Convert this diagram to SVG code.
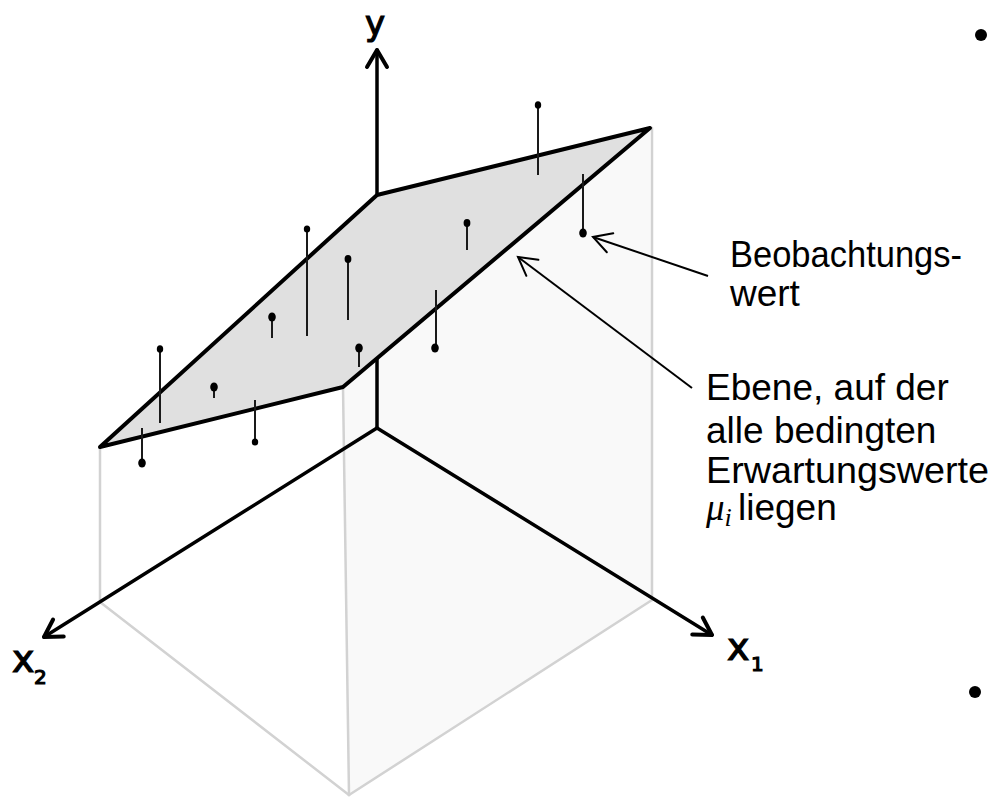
<svg xmlns="http://www.w3.org/2000/svg" width="996" height="798" viewBox="0 0 996 798">
<style>
  .face { fill: #f9f9f9; stroke: none; }
  .gray { stroke: #d2d2d2; stroke-width: 2.5; fill: none; stroke-linecap: round; }
  .axis { stroke: #000; stroke-width: 3.5; fill: none; stroke-linecap: round; }
  .plane { fill: #e0e0e0; stroke: #000; stroke-width: 4; stroke-linejoin: round; }
  .stem { stroke: #1a1a1a; stroke-width: 2; fill: none; }
  .dot { fill: #000; }
  .ann { stroke: #000; stroke-width: 2; fill: none; }
  .lbl { font-family: "Liberation Sans", Arial, sans-serif; font-size: 37px; fill: #000; }
  .hand { font-family: "DejaVu Sans", sans-serif; fill: #000; stroke: #000; stroke-width: 1.2; }
</style>
<defs>
  <marker id="axHead" markerUnits="userSpaceOnUse" markerWidth="40" markerHeight="40" viewBox="-25 -20 30 40" refX="0" refY="0" orient="auto">
    <path d="M -17 -10 L 0 0 L -17 10" fill="none" stroke="#000" stroke-width="4" stroke-linecap="round" stroke-linejoin="round"/>
  </marker>
  <marker id="annHead" markerUnits="userSpaceOnUse" markerWidth="40" markerHeight="40" viewBox="-25 -20 30 40" refX="0" refY="0" orient="auto">
    <path d="M -18 -10 L 0 0 L -18 10" fill="none" stroke="#000" stroke-width="2" stroke-linecap="round" stroke-linejoin="miter"/>
  </marker>
</defs>
<rect x="0" y="0" width="996" height="798" fill="#fff"/>

<g id="box">
  <polygon class="face" points="343,387 650,128 652,600 349,795"/>
  <line class="gray" x1="100" y1="447" x2="100" y2="602"/>
  <line class="gray" x1="343" y1="387" x2="349" y2="795"/>
  <line class="gray" x1="652" y1="128" x2="652" y2="600"/>
  <line class="gray" x1="100" y1="602" x2="349" y2="795"/>
  <line class="gray" x1="652" y1="600" x2="349" y2="795"/>
</g>

<g id="connectors">
  <line class="axis" x1="377" y1="428" x2="377" y2="50" marker-end="url(#axHead)"/>
  <line class="axis" x1="377" y1="428" x2="712" y2="635" marker-end="url(#axHead)"/>
  <line class="axis" x1="377" y1="428" x2="44" y2="637" marker-end="url(#axHead)"/>
  <line class="ann" x1="708" y1="276" x2="593" y2="237" marker-end="url(#annHead)"/>
  <line class="ann" x1="692" y1="388" x2="518" y2="257" marker-end="url(#annHead)"/>
</g>

<g id="plane">
  <polygon class="plane" points="377,195 650,128 343,387 100,447"/>
</g>

<g id="observations">
  <line class="stem" x1="160" y1="349" x2="160" y2="423"/><ellipse class="dot" cx="160" cy="349" rx="3.2" ry="3.8"/>
  <line class="stem" x1="214" y1="387" x2="214" y2="398"/><ellipse class="dot" cx="214" cy="387" rx="3.8" ry="4.5"/>
  <line class="stem" x1="272" y1="317" x2="272" y2="338"/><ellipse class="dot" cx="272" cy="317" rx="3.8" ry="4.5"/>
  <line class="stem" x1="307" y1="229" x2="307" y2="336"/><ellipse class="dot" cx="307" cy="229" rx="3.2" ry="3.6"/>
  <line class="stem" x1="348" y1="259" x2="348" y2="320"/><ellipse class="dot" cx="348" cy="259" rx="3.4" ry="4"/>
  <line class="stem" x1="359" y1="348" x2="359" y2="367"/><ellipse class="dot" cx="359" cy="348" rx="3.8" ry="4.5"/>
  <line class="stem" x1="142" y1="428" x2="142" y2="463"/><ellipse class="dot" cx="142" cy="463" rx="3.8" ry="4.5"/>
  <line class="stem" x1="255" y1="400" x2="255" y2="442"/><ellipse class="dot" cx="255" cy="442" rx="3.2" ry="3.6"/>
  <line class="stem" x1="538" y1="105" x2="538" y2="175"/><ellipse class="dot" cx="538" cy="105" rx="3.2" ry="3.8"/>
  <line class="stem" x1="467" y1="223" x2="467" y2="250"/><ellipse class="dot" cx="467" cy="223" rx="3.4" ry="4"/>
  <line class="stem" x1="583" y1="174" x2="583" y2="233"/><ellipse class="dot" cx="583" cy="233" rx="3.8" ry="4.5"/>
  <line class="stem" x1="436" y1="290" x2="436" y2="348"/><ellipse class="dot" cx="435" cy="348" rx="3.8" ry="4.5"/>
</g>

<g id="axis-labels">
  <text class="hand" x="365" y="35" font-size="34">y</text>
  <text class="hand" x="727" y="660" font-size="38">x</text>
  <text class="hand" x="751" y="671" font-size="20">1</text>
  <text class="hand" x="12" y="672" font-size="38">x</text>
  <text class="hand" x="34" y="684" font-size="20">2</text>
</g>

<g id="label-beobachtung">
  <text class="lbl" x="730" y="267" font-size="35" textLength="232" lengthAdjust="spacingAndGlyphs">Beobachtungs-</text>
  <text class="lbl" x="730" y="306">wert</text>
</g>

<g id="label-ebene">
  <text class="lbl" x="706" y="400">Ebene, auf der</text>
  <text class="lbl" x="706" y="443">alle bedingten</text>
  <text class="lbl" x="706" y="483" textLength="283" lengthAdjust="spacingAndGlyphs">Erwartungswerte</text>
  <text class="lbl" x="706" y="520"><tspan font-family="Liberation Serif, serif" font-style="italic">μ</tspan><tspan font-family="Liberation Serif, serif" font-style="italic" font-size="26" dy="6">i</tspan><tspan x="738" dy="-6">liegen</tspan></text>
</g>

<g id="bullets">
  <circle class="dot" cx="981" cy="35" r="6"/>
  <circle class="dot" cx="975" cy="692" r="6"/>
</g>
</svg>
